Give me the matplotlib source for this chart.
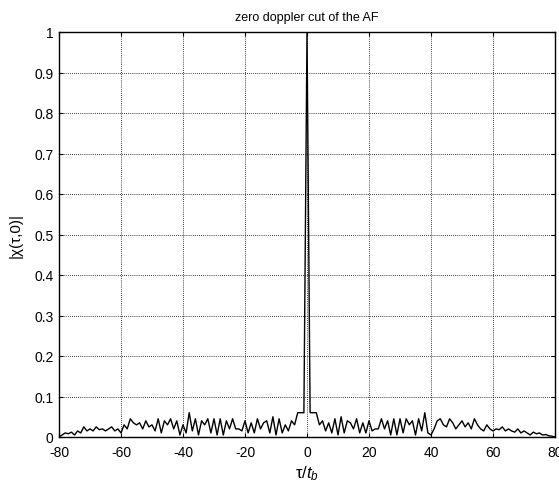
import numpy as np
import matplotlib
matplotlib.use("Agg")
import matplotlib.pyplot as plt

# lags (in chip units) and |chi(tau,0)|
tau = list(range(-80, 81))
neg_side = [  # tau = -80 ... -1
    0.0, 0.005, 0.01, 0.008, 0.012, 0.005, 0.015, 0.01, 0.025, 0.015,
    0.02, 0.015, 0.025, 0.018, 0.02, 0.015, 0.02, 0.025, 0.015, 0.02,
    0.01, 0.03, 0.02, 0.045, 0.035, 0.03, 0.035, 0.02, 0.04, 0.025,
    0.03, 0.015, 0.045, 0.01, 0.04, 0.03, 0.045, 0.02, 0.04, 0.005,
    0.03, 0.01, 0.06, 0.015, 0.045, 0.005, 0.04, 0.03, 0.045, 0.01,
    0.045, 0.005, 0.045, 0.005, 0.04, 0.02, 0.045, 0.02, 0.02, 0.015,
    0.04, 0.01, 0.035, 0.01, 0.045, 0.02, 0.035, 0.04, 0.01, 0.05,
    0.005, 0.045, 0.01, 0.03, 0.015, 0.04, 0.03, 0.06, 0.06, 0.06,
]
peak = [1.0]
pos_side = [  # tau = 1 ... 80
    0.06, 0.06, 0.06, 0.03, 0.04, 0.015, 0.035, 0.01, 0.045, 0.005,
    0.05, 0.01, 0.04, 0.035, 0.02, 0.045, 0.01, 0.035, 0.01, 0.04,
    0.015, 0.02, 0.02, 0.045, 0.02, 0.04, 0.005, 0.045, 0.005, 0.045,
    0.01, 0.045, 0.03, 0.04, 0.005, 0.045, 0.015, 0.06, 0.01, 0.005,
    0.02, 0.04, 0.045, 0.03, 0.025, 0.045, 0.035, 0.02, 0.03, 0.04,
    0.025, 0.035, 0.02, 0.045, 0.03, 0.02, 0.015, 0.03, 0.02, 0.015,
    0.02, 0.018, 0.025, 0.015, 0.02, 0.015, 0.012, 0.02, 0.01, 0.015,
    0.01, 0.005, 0.012, 0.008, 0.01, 0.005, 0.006, 0.003, 0.002, 0.0,
]
mag = neg_side + peak + pos_side

xticks = [-80, -60, -40, -20, 0, 20, 40, 60, 80]
yticks = [0, 0.1, 0.2, 0.3, 0.4, 0.5, 0.6, 0.7, 0.8, 0.9, 1]
yticklabels = ["0", "0.1", "0.2", "0.3", "0.4", "0.5", "0.6", "0.7", "0.8", "0.9", "1"]

plt.rcParams['font.family'] = ['Liberation Sans', 'DejaVu Sans']
plt.rcParams['axes.unicode_minus'] = False
plt.rcParams['mathtext.fontset'] = 'custom'
plt.rcParams['mathtext.rm'] = 'Liberation Sans'
plt.rcParams['mathtext.it'] = 'Liberation Sans:italic'

fig = plt.figure(figsize=(5.59, 4.89), dpi=100)
ax = fig.add_axes([59/559, 51/489, 496/559, 405/489])
ax.plot(tau, mag, color='black', linewidth=1.0)
ax.set_xlim(-80, 80)
ax.set_ylim(0, 1)
ax.set_xticks(xticks)
ax.set_yticks(yticks)
ax.set_yticklabels(yticklabels)
ax.grid(True, color='black', linestyle=(0, (1, 1.5)), linewidth=0.6)
ax.tick_params(direction='in', length=3, labelsize=10, top=True, right=True)
ax.tick_params(axis='x', pad=6)
ax.tick_params(axis='y', pad=4)
for s in ax.spines.values():
    s.set_linewidth(1.0)
ax.set_title('zero doppler cut of the AF', fontsize=9, pad=9)
ax.set_xlabel(r'$\mathrm{\tau}/\mathit{t}_\mathit{b}$', fontsize=12, labelpad=3)
ax.set_ylabel('|χ(τ,0)|', fontsize=11, labelpad=8)
fig.savefig('out.png', dpi=100)
